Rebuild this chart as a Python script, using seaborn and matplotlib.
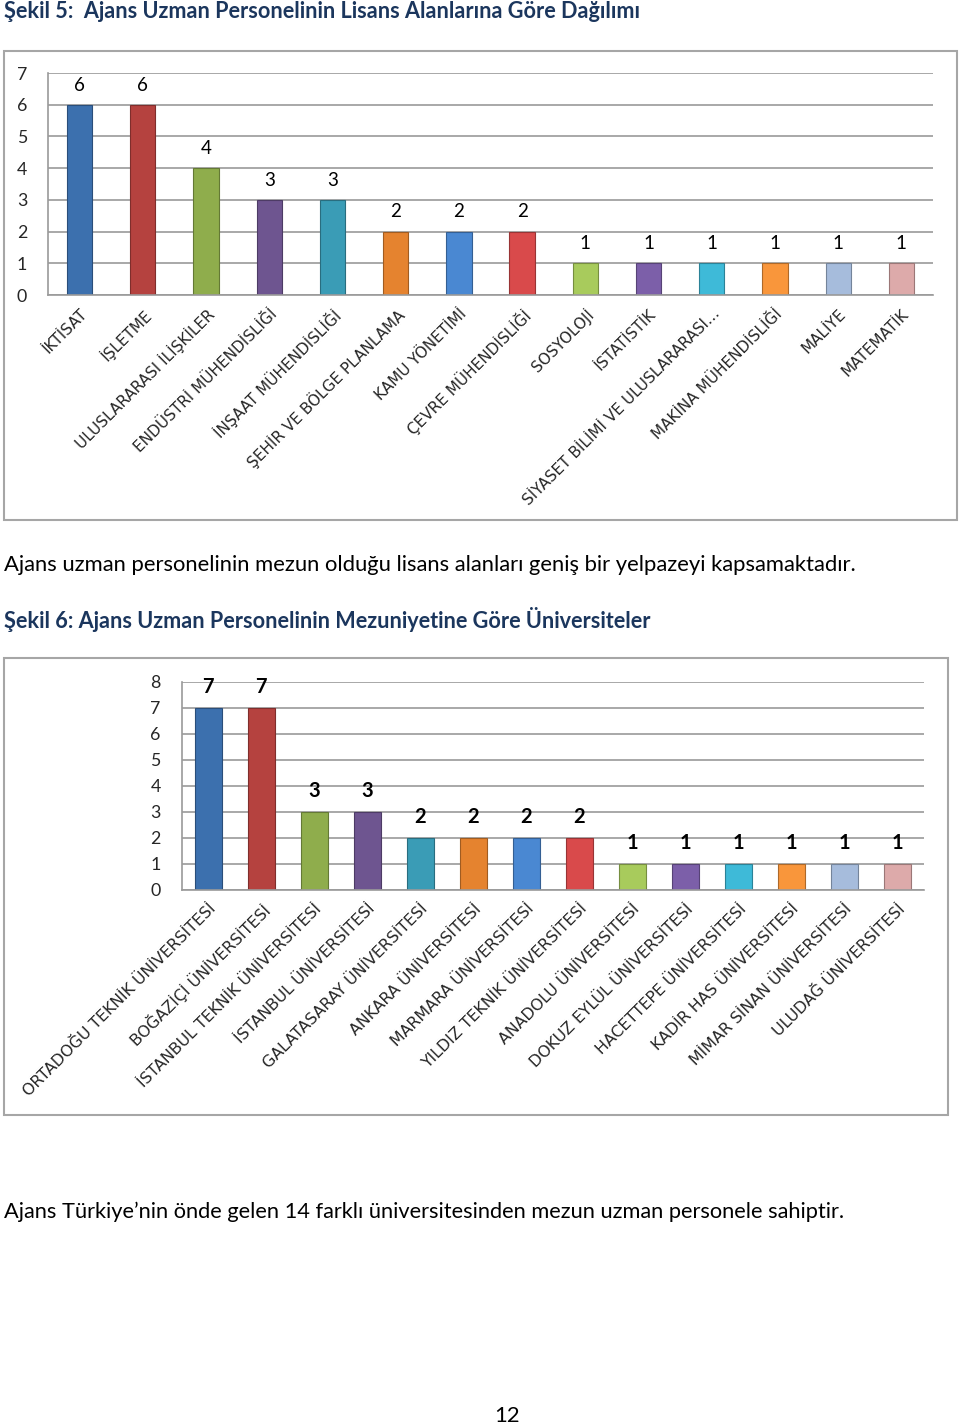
import matplotlib
matplotlib.use("Agg")
import matplotlib.pyplot as plt
import seaborn as sns
import pandas as pd
from matplotlib.patches import Rectangle
from matplotlib.ticker import FixedLocator

# ---------------- data ----------------
alanlar = ["İKTİSAT", "İŞLETME", "ULUSLARARASI İLİŞKİLER", "ENDÜSTRİ MÜHENDİSLİĞİ",
           "İNŞAAT MÜHENDİSLİĞİ", "ŞEHİR VE BÖLGE PLANLAMA", "KAMU YÖNETİMİ",
           "ÇEVRE MÜHENDİSLİĞİ", "SOSYOLOJİ", "İSTATİSTİK",
           "SİYASET BİLİMİ VE ULUSLARARASI…", "MAKİNA MÜHENDİSLİĞİ", "MALİYE", "MATEMATİK"]
alan_sayilari = [6, 6, 4, 3, 3, 2, 2, 2, 1, 1, 1, 1, 1, 1]

universiteler = ["ORTADOĞU TEKNİK ÜNİVERSİTESİ", "BOĞAZİÇİ ÜNİVERSİTESİ",
                 "İSTANBUL TEKNİK ÜNİVERSİTESİ", "İSTANBUL ÜNİVERSİTESİ",
                 "GALATASARAY ÜNİVERSİTESİ", "ANKARA ÜNİVERSİTESİ", "MARMARA ÜNİVERSİTESİ",
                 "YILDIZ TEKNİK ÜNİVERSİTESİ", "ANADOLU ÜNİVERSİTESİ", "DOKUZ EYLÜL ÜNİVERSİTESİ",
                 "HACETTEPE ÜNİVERSİTESİ", "KADİR HAS ÜNİVERSİTESİ", "MİMAR SİNAN ÜNİVERSİTESİ",
                 "ULUDAĞ ÜNİVERSİTESİ"]
uni_sayilari = [7, 7, 3, 3, 2, 2, 2, 2, 1, 1, 1, 1, 1, 1]

bar_colors = ["#3C70AE", "#B5423F", "#8FAD4C", "#6E5590", "#3A9CB6", "#E5832F",
              "#4A88D2", "#D94A4B", "#A8CB5C", "#7C5FA9", "#3EBAD8", "#F9963B",
              "#A6BCDC", "#DDAAAA"]

title1 = "Şekil 5:  Ajans Uzman Personelinin Lisans Alanlarına Göre Dağılımı"
body1 = "Ajans uzman personelinin mezun olduğu lisans alanları geniş bir yelpazeyi kapsamaktadır."
title2 = "Şekil 6: Ajans Uzman Personelinin Mezuniyetine Göre Üniversiteler"
body2 = "Ajans Türkiye’nin önde gelen 14 farklı üniversitesinden mezun uzman personele sahiptir."
page_no = "12"

# ---------------- style ----------------
sns.set_style("white")
plt.rcParams["font.family"] = ["Lato", "DejaVu Sans"]

W, H = 960, 1427
fig = plt.figure(figsize=(W / 100, H / 100), dpi=100)

NAVY = "#1B365D"
GRID = "#9A9A9A"


def darker(c, f=0.75):
    r, g, b = matplotlib.colors.to_rgb(c)
    return (r * f, g * f, b * f)


def draw_chart(ax, cats, vals, ymax, width, bold_labels, label_size, xlab_size):
    df = pd.DataFrame({"cat": cats, "val": vals})
    sns.barplot(data=df, x="cat", y="val", hue="cat", palette=bar_colors[:len(cats)],
                legend=False, ax=ax, width=width, saturation=1.0)
    for p, c in zip(ax.patches, bar_colors):
        p.set_edgecolor(darker(c, 0.7))
        p.set_linewidth(0.8)
    for cont in ax.containers:
        ax.bar_label(cont, padding=8, fontsize=label_size,
                     fontweight="bold" if bold_labels else "normal", color="black")
    ax.set_ylim(0, ymax)
    ax.set_xlim(-0.5, len(cats) - 0.5)
    ax.set_yticks(range(0, ymax + 1))
    ax.yaxis.grid(True, color=GRID, linewidth=1.2)
    ax.set_axisbelow(True)
    for s in ["top", "right"]:
        ax.spines[s].set_visible(False)
    for s in ["left", "bottom"]:
        ax.spines[s].set_color(GRID)
        ax.spines[s].set_linewidth(1.2)
    ax.tick_params(axis="y", length=5, color=GRID, width=1.2, pad=10, labelsize=12.8)
    ax.tick_params(axis="x", which="major", length=0, pad=8)
    ax.xaxis.set_minor_locator(FixedLocator([i - 0.5 for i in range(len(cats) + 1)]))
    ax.tick_params(axis="x", which="minor", length=5, color=GRID, width=1.2)
    ax.set_xticks(range(len(cats)))
    ax.set_xticklabels(cats, rotation=45, ha="right", rotation_mode="anchor",
                       fontsize=xlab_size, family="DejaVu Sans")
    ax.set_xlabel("")
    ax.set_ylabel("")


ax1 = fig.add_axes([48 / W, 1 - 295 / H, 885 / W, 222 / H])
draw_chart(ax1, alanlar, alan_sayilari, 7, 0.4, False, 13.5, 11)

ax2 = fig.add_axes([181.7 / W, 1 - 890 / H, 742.3 / W, 208 / H])
draw_chart(ax2, universiteler, uni_sayilari, 8, 0.51, True, 14.5, 11.4)

# chart frames
fig.patches.append(Rectangle((4 / W, 1 - 520 / H), 953 / W, 469 / H, transform=fig.transFigure,
                             fill=False, edgecolor="#A6A6A6", linewidth=1.5))
fig.patches.append(Rectangle((4 / W, 1 - 1115 / H), 944 / W, 457 / H, transform=fig.transFigure,
                             fill=False, edgecolor="#A6A6A6", linewidth=1.5))

fig.text(4 / W, 1 - 12 / H, title1, ha="left", va="center", fontsize=15.6,
         fontweight="bold", color=NAVY)
fig.text(4 / W, 1 - 565 / H, body1, ha="left", va="center", fontsize=15.8, color="black")
fig.text(4 / W, 1 - 619 / H, title2, ha="left", va="center", fontsize=15.6,
         fontweight="bold", color=NAVY)
fig.text(4 / W, 1 - 1212 / H, body2, ha="left", va="center", fontsize=15.7, color="black")
fig.text(507 / W, 1 - 1416 / H, page_no, ha="center", va="center", fontsize=15.8, color="black")

fig.savefig("out.png", dpi=100, facecolor="white")
